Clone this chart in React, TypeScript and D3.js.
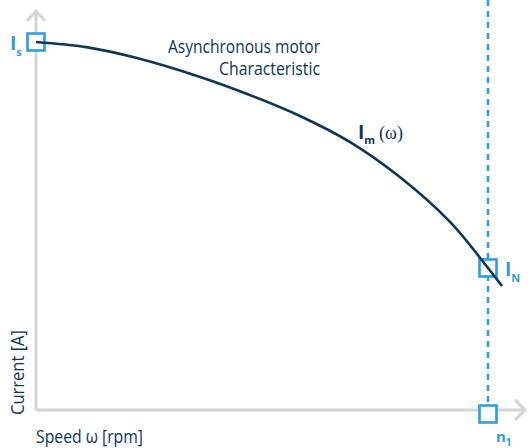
import React from "react";
import * as d3 from "d3";

const speed = [0, 0.111, 0.221, 0.363, 0.473, 0.584, 0.695, 0.805, 0.916, 1.0, 1.031];
const current = [1.0, 0.986, 0.957, 0.905, 0.856, 0.799, 0.728, 0.633, 0.511, 0.386, 0.337];
const ratedSpeed = 1.0;
const startCurrent = 1.0;
const ratedCurrent = 0.386;

const W = 530;
const H = 448;
const NAVY = "#0c3659";
const BLUE = "#2f9ddc";
const GREY = "#d4d4d4";
const FONT = "'Open Sans', 'Noto Sans', sans-serif";

export default function App() {
  const x = d3.scaleLinear().domain([0, 1]).range([36, 488]);
  const y = d3.scaleLinear().domain([0, 1]).range([410, 42]);
  const pts: [number, number][] = speed.map((s, i) => [s, current[i]]);
  const line = d3
    .line<[number, number]>()
    .x((d) => x(d[0]))
    .y((d) => y(d[1]))
    .curve(d3.curveCatmullRom.alpha(0.5));

  const x0 = x(0);
  const y0 = y(0);
  const sq = 17;
  const square = (cx: number, cy: number, key: string) => (
    <rect key={key} x={cx - sq / 2} y={cy - sq / 2} width={sq} height={sq} fill="#fff" stroke={BLUE} strokeWidth={2.6} />
  );

  return (
    <svg width={W} height={H} style={{ position: "absolute", left: 0, top: 0, background: "#fff" }}>
      {/* axes */}
      <line x1={x0} y1={12} x2={x0} y2={y0} stroke={GREY} strokeWidth={3} />
      <line x1={x0} y1={y0} x2={524} y2={y0} stroke={GREY} strokeWidth={3} />
      <polyline points={`${x0 - 9},${21} ${x0},${11} ${x0 + 9},${21}`} fill="none" stroke={GREY} strokeWidth={3} />
      <polyline points={`${515},${y0 - 10} ${525},${y0} ${515},${y0 + 10}`} fill="none" stroke={GREY} strokeWidth={3} />

      {/* dashed rated speed line */}
      <line x1={x(ratedSpeed)} y1={0} x2={x(ratedSpeed)} y2={y0} stroke={BLUE} strokeWidth={2.6} strokeDasharray="6 5" />

      {/* markers */}
      {square(x(0), y(startCurrent), "is")}
      {square(x(ratedSpeed), y(ratedCurrent), "in")}
      {square(x(ratedSpeed), y0 + 4, "n1")}

      {/* curve */}
      <path d={line(pts) || ""} fill="none" stroke={NAVY} strokeWidth={2.6} />

      {/* labels */}
      <g fontFamily={FONT}>
        <text x={320} y={53} fontSize={18} fill={NAVY} textAnchor="end" textLength={152} lengthAdjust="spacingAndGlyphs">Asynchronous motor</text>
        <text x={320} y={75} fontSize={18} fill={NAVY} textAnchor="end" textLength={101} lengthAdjust="spacingAndGlyphs">Characteristic</text>

        <text x={358} y={139} fill={NAVY}>
          <tspan fontSize={19} fontWeight="bold">I</tspan>
          <tspan fontSize={11} fontWeight="bold" dy={5}>m</tspan>
          <tspan fontSize={18} dy={-5} dx={4} fontFamily="'Liberation Serif', serif">(ω)</tspan>
        </text>

        <text x={10} y={50} fill={BLUE} fontWeight="bold">
          <tspan fontSize={19}>I</tspan>
          <tspan fontSize={11} dy={6}>s</tspan>
        </text>
        <text x={505} y={276} fill={BLUE} fontWeight="bold">
          <tspan fontSize={19}>I</tspan>
          <tspan fontSize={11} dy={6}>N</tspan>
        </text>
        <text x={496} y={442} fill={BLUE} fontWeight="bold">
          <tspan fontSize={15}>n</tspan>
          <tspan fontSize={10} dy={4}>1</tspan>
        </text>

        <text x={36} y={443} fontSize={18} fill={NAVY} textLength={107} lengthAdjust="spacingAndGlyphs">Speed ω [rpm]</text>
        <text transform="translate(24,415) rotate(-90)" fontSize={18} fill={NAVY} textLength={85} lengthAdjust="spacingAndGlyphs">Current [A]</text>
      </g>
    </svg>
  );
}
